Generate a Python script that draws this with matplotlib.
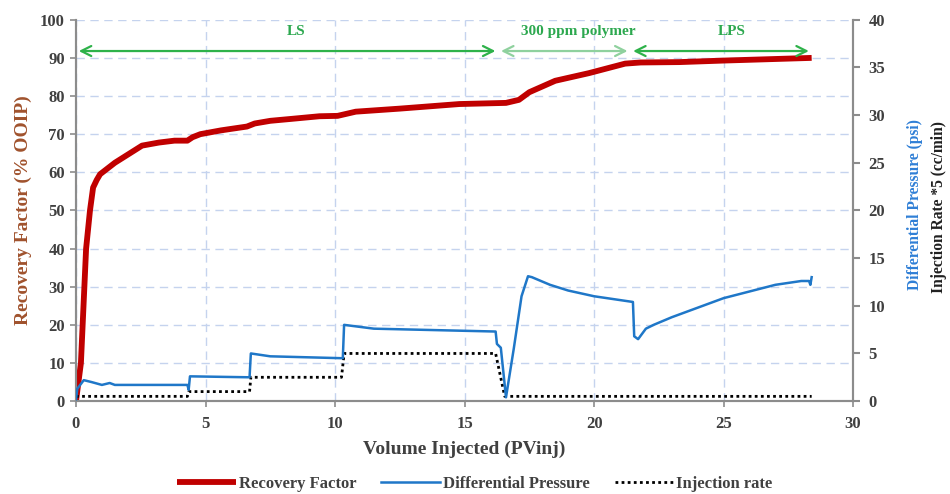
import matplotlib.pyplot as plt

# recovery factor (% OOIP) vs volume injected (PV)
rf_pv = [0, 0.19, 0.39, 0.54, 0.66, 0.8, 0.93, 1.5, 2.55, 3.2, 3.8, 4.3, 4.5, 4.8, 5.6, 6.6, 6.9, 7.5, 8.3,
         9.4, 10.1, 10.8, 12.5, 14.8, 16.0, 16.6, 17.1, 17.5, 18.5, 19.8, 21.2, 21.8, 23.3, 25.0, 28.4]
rf = [0, 10, 40, 50, 56, 58, 59.5, 62.5, 67, 67.8, 68.3, 68.3, 69.2, 70.0, 71, 72, 72.8, 73.5, 74.0,
      74.7, 74.8, 75.9, 76.7, 77.9, 78.1, 78.2, 79, 81, 84, 86, 88.5, 88.8, 88.9, 89.3, 90]

# differential pressure (psi)
dp_pv = [0, 0.05, 0.3, 0.6, 1.0, 1.3, 1.5, 4.3, 4.35, 4.4, 6.7, 6.75, 7.5, 10.3, 10.35, 11.5, 16.2, 16.25,
         16.4, 16.6, 16.9, 17.2, 17.45, 17.6, 18.3, 19.0, 20.0, 21.5, 21.55, 21.7, 22.0, 22.3, 23.0, 24.0,
         25.0, 26.0, 27.0, 28.0, 28.3, 28.35, 28.4]
dp = [0.2, 1.3, 2.2, 2.0, 1.7, 1.9, 1.7, 1.7, 1.2, 2.6, 2.5, 5.0, 4.7, 4.5, 8.0, 7.6, 7.3, 6.0,
      5.6, 0.4, 5.5, 11.0, 13.1, 13.0, 12.2, 11.6, 11.0, 10.4, 6.8, 6.5, 7.6, 8.0, 8.8, 9.8,
      10.8, 11.5, 12.2, 12.6, 12.6, 12.2, 13.0]

# injection rate *5 (cc/min)
ir_pv = [0, 4.3, 4.35, 6.7, 6.75, 10.25, 10.35, 16.2, 16.55, 28.4]
ir = [0.5, 0.5, 1.0, 1.0, 2.5, 2.5, 5.0, 5.0, 0.5, 0.5]

stages = ["LS", "300 ppm polymer", "LPS"]
stage_bounds = [0, 16.3, 21.4, 28.4]
stage_text_x = [8.5, 19.4, 25.3]

plt.rcParams['font.family'] = ['Liberation Serif', 'DejaVu Serif']
plt.rcParams['font.weight'] = 'bold'

fig = plt.figure(figsize=(9.5, 4.94), dpi=100)
ax = fig.add_axes([0.08, 0.188, 0.818, 0.772])
ax2 = ax.twinx()

grid_col = "#c5d3ee"
ax.set_xlim(0, 30)
ax.set_ylim(0, 100)
ax.set_xticks(range(0, 31, 5))
ax.set_yticks(range(0, 101, 10))
ax.grid(True, color=grid_col, linestyle=(0, (6, 4)), linewidth=1)
ax.set_axisbelow(True)

ax2.set_ylim(0, 40)
ax2.set_yticks(range(0, 41, 5))

l1, = ax.plot(rf_pv, rf, color="#c00000", lw=4.2, solid_capstyle="butt", label="Recovery Factor", zorder=3)
l2, = ax2.plot(dp_pv, dp, color="#1f77c8", lw=1.8, label="Differential Pressure", zorder=3)
l3, = ax2.plot(ir_pv, ir, color="black", lw=2, linestyle=(0, (1, 1.2)), label="Injection rate", zorder=2)

# stage arrows
arrow_cols = ["#2eb24a", "#8fd19e", "#2eb24a"]
for i, name in enumerate(stages):
    a, b = stage_bounds[i], stage_bounds[i + 1]
    ax.annotate("", xy=(a, 91.8), xytext=(b, 91.8),
                arrowprops=dict(arrowstyle="<->", color=arrow_cols[i], lw=1.6, mutation_scale=18))
    ax.text(stage_text_x[i], 97, name, color="#2ca84f", fontsize=11,
            ha="center", va="center", fontweight="bold")

for a in (ax, ax2):
    for s in a.spines.values():
        s.set_color("#8c8c8c")
        s.set_linewidth(1.5)
    a.spines["top"].set_visible(False)
ax.tick_params(axis="both", colors="#8c8c8c", labelcolor="#404040", labelsize=12, length=4, width=1.2, pad=4)
ax2.tick_params(axis="y", colors="#8c8c8c", labelcolor="#404040", labelsize=12, length=5, width=1.5, pad=6)
ax.tick_params(axis="x", pad=7)

ax.set_xlabel("Volume Injected (PVinj)", fontsize=14, fontweight="bold", color="#404040", labelpad=6)
ax.set_ylabel("Recovery Factor (% OOIP)", fontsize=14, fontweight="bold", color="#a0522d", labelpad=6)
fig.text(0.963, 0.585, "Differential Pressure (psi)", rotation=90, fontsize=11.2, fontweight="bold",
         color="#2f7fd6", ha="center", va="center")
fig.text(0.988, 0.58, "Injection Rate *5 (cc/min)", rotation=90, fontsize=11.2, fontweight="bold",
         color="#202020", ha="center", va="center")

fig.legend(handles=[l1, l2, l3], loc="center", bbox_to_anchor=(0.5, 0.02), ncol=3, frameon=False,
           fontsize=12, handlelength=3.5, handletextpad=0.2, columnspacing=1.5,
           labelcolor="#404040")

fig.savefig("out.png", dpi=100)
